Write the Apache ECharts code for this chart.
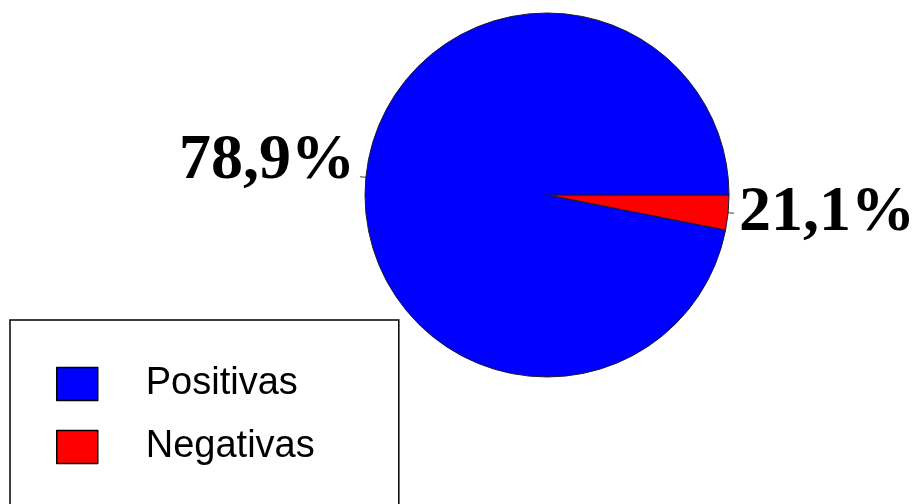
<!DOCTYPE html>
<html>
<head>
<meta charset="utf-8">
<script src="https://cdn.jsdelivr.net/npm/echarts@6/dist/echarts.min.js"></script>
<style>
html,body{margin:0;padding:0;background:#fff;}
#chart{width:914px;height:504px;}
</style>
</head>
<body>
<div id="chart"></div>
<script>
// Slices as drawn in the picture (order: starting at 3 o'clock, clockwise)
var categories = ['Negativas', 'Positivas'];
var values = [3.1, 96.9];
var labelTexts = ['21,1%', '78,9%'];
var legendOrder = ['Positivas', 'Negativas'];
var colors = {'Positivas': '#0000ff', 'Negativas': '#ff0000'};

var data = categories.map(function (c, i) {
  return {name: c, value: values[i], itemStyle: {color: colors[c]}};
});

var legendText = {fontFamily: 'Liberation Sans, Arial', fontSize: 38, color: '#000', padding: [0, 0, 0, 43]};
var legendItem = {borderColor: '#000', borderWidth: 1.5};
var labelFont = {fontFamily: 'Liberation Serif, Times New Roman, serif', fontWeight: 'bold', fontSize: 64, color: '#000'};

var chart = echarts.init(document.getElementById('chart'));
chart.setOption({
  animation: false,
  backgroundColor: '#ffffff',
  legend: [{
    data: [legendOrder[0]],
    orient: 'vertical',
    left: 10,
    top: 320,
    padding: [45, 101, 120, 46],
    itemWidth: 41,
    itemHeight: 33,
    borderColor: '#000',
    borderWidth: 1.5,
    icon: 'rect',
    selectedMode: false,
    itemStyle: legendItem,
    textStyle: legendText
  }, {
    data: [legendOrder[1]],
    orient: 'vertical',
    left: 10,
    top: 428,
    padding: [0, 0, 0, 46],
    itemWidth: 41,
    itemHeight: 33,
    icon: 'rect',
    selectedMode: false,
    itemStyle: legendItem,
    textStyle: legendText
  }],
  series: [{
    type: 'pie',
    center: [547, 195],
    radius: 182,
    startAngle: 0,
    clockwise: true,
    silent: true,
    data: data,
    itemStyle: {borderColor: '#1a1a33', borderWidth: 1},
    label: {
      show: true,
      position: 'outside',
      overflow: 'none',
      formatter: function (p) {
        var t = '{t|' + labelTexts[p.dataIndex] + '}';
        return p.dataIndex === 1 ? t + '\n{s|}' : t;
      },
      rich: {
        t: labelFont,
        s: {height: 30, fontSize: 10}
      }
    },
    labelLine: {show: true, length: 5, length2: 1, lineStyle: {color: '#444', width: 1}}
  }]
});
</script>
</body>
</html>
